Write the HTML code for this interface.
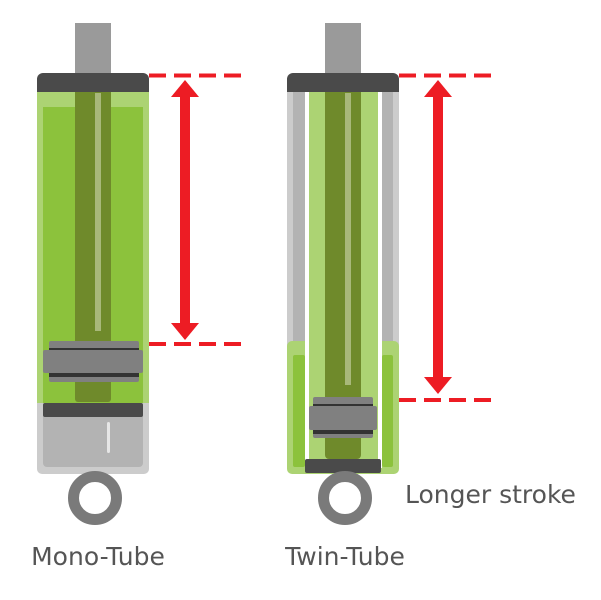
<!DOCTYPE html>
<html><head><meta charset="utf-8"><style>
html,body{margin:0;padding:0;background:#fff;}
svg{display:block;}
text{font-family:"DejaVu Sans","Liberation Sans",sans-serif;fill:#555;font-size:25px;}
</style></head><body>
<svg width="601" height="600" viewBox="0 0 601 600" xmlns="http://www.w3.org/2000/svg">
<rect x="75" y="23" width="36" height="55" fill="#9a9a9a"/>
<rect x="37" y="395" width="112" height="79" rx="5" fill="#cccccc"/>
<rect x="43" y="410" width="100" height="57" rx="4" fill="#b3b3b3"/>
<rect x="107" y="422" width="3" height="31" rx="1.5" fill="#e6e6e6"/>
<rect x="37" y="88" width="112" height="315" fill="#acd373"/>
<rect x="43" y="107" width="100" height="296" fill="#8cc23c"/>
<rect x="75" y="88" width="36" height="314" rx="3" fill="#6f8a2b"/>
<rect x="95" y="93" width="6" height="238" fill="#a8b87a"/>
<rect x="37" y="73" width="112" height="19" rx="6" fill="#4a4a4a"/>
<rect x="37" y="86" width="112" height="6" fill="#4a4a4a"/>
<rect x="43" y="403" width="100" height="14" rx="2" fill="#4a4a4a"/>
<rect x="49" y="341" width="90" height="41" rx="2" fill="#808080"/>
<rect x="49" y="348" width="90" height="2" fill="#333"/>
<rect x="49" y="373" width="90" height="4" fill="#333"/>
<rect x="43" y="350" width="100" height="23" rx="2" fill="#808080"/>
<circle cx="95" cy="498" r="21.5" fill="none" stroke="#7a7a7a" stroke-width="11"/>
<g stroke="#ed1c24" stroke-width="4" stroke-dasharray="17 8">
<line x1="149" y1="75.5" x2="245" y2="75.5"/>
<line x1="149" y1="344" x2="245" y2="344"/>
</g>
<rect x="180" y="95" width="10" height="230" fill="#ed1c24"/>
<polygon points="185,80 199,97 171,97" fill="#ed1c24"/>
<polygon points="185,340 199,323 171,323" fill="#ed1c24"/>

<rect x="325" y="23" width="36" height="55" fill="#9a9a9a"/>
<rect x="287" y="88" width="112" height="260" fill="#cccccc"/>
<rect x="293" y="92" width="12" height="256" fill="#b3b3b3"/>
<rect x="382" y="92" width="11" height="256" fill="#b3b3b3"/>
<rect x="287" y="341" width="112" height="133" rx="5" fill="#acd373"/>
<rect x="293" y="355" width="12" height="112" rx="2" fill="#8cc23c"/>
<rect x="382" y="355" width="11" height="112" rx="2" fill="#8cc23c"/>
<rect x="305" y="88" width="77" height="380" fill="#fff"/>
<rect x="309" y="88" width="69" height="379" fill="#acd373"/>
<rect x="325" y="88" width="36" height="371" rx="4" fill="#6f8a2b"/>
<rect x="345" y="93" width="6" height="292" fill="#a8b87a"/>
<rect x="287" y="73" width="112" height="19" rx="6" fill="#4a4a4a"/>
<rect x="287" y="86" width="112" height="6" fill="#4a4a4a"/>
<rect x="305" y="459" width="76" height="14" rx="2" fill="#4a4a4a"/>
<rect x="313" y="397" width="60" height="41" rx="2" fill="#808080"/>
<rect x="313" y="404" width="60" height="2" fill="#333"/>
<rect x="313" y="430" width="60" height="4" fill="#333"/>
<rect x="309" y="406" width="68" height="24" rx="2" fill="#808080"/>
<circle cx="345" cy="498" r="21.5" fill="none" stroke="#7a7a7a" stroke-width="11"/>
<g stroke="#ed1c24" stroke-width="4" stroke-dasharray="17 8">
<line x1="399" y1="75.5" x2="495" y2="75.5"/>
<line x1="399" y1="400" x2="495" y2="400"/>
</g>
<rect x="433" y="95" width="10" height="285" fill="#ed1c24"/>
<polygon points="438,80 452,97 424,97" fill="#ed1c24"/>
<polygon points="438,394 452,377 424,377" fill="#ed1c24"/>

<text x="98" y="565" text-anchor="middle">Mono-Tube</text>
<text x="345" y="565" text-anchor="middle">Twin-Tube</text>
<text x="405" y="503">Longer stroke</text>
</svg>
</body></html>
